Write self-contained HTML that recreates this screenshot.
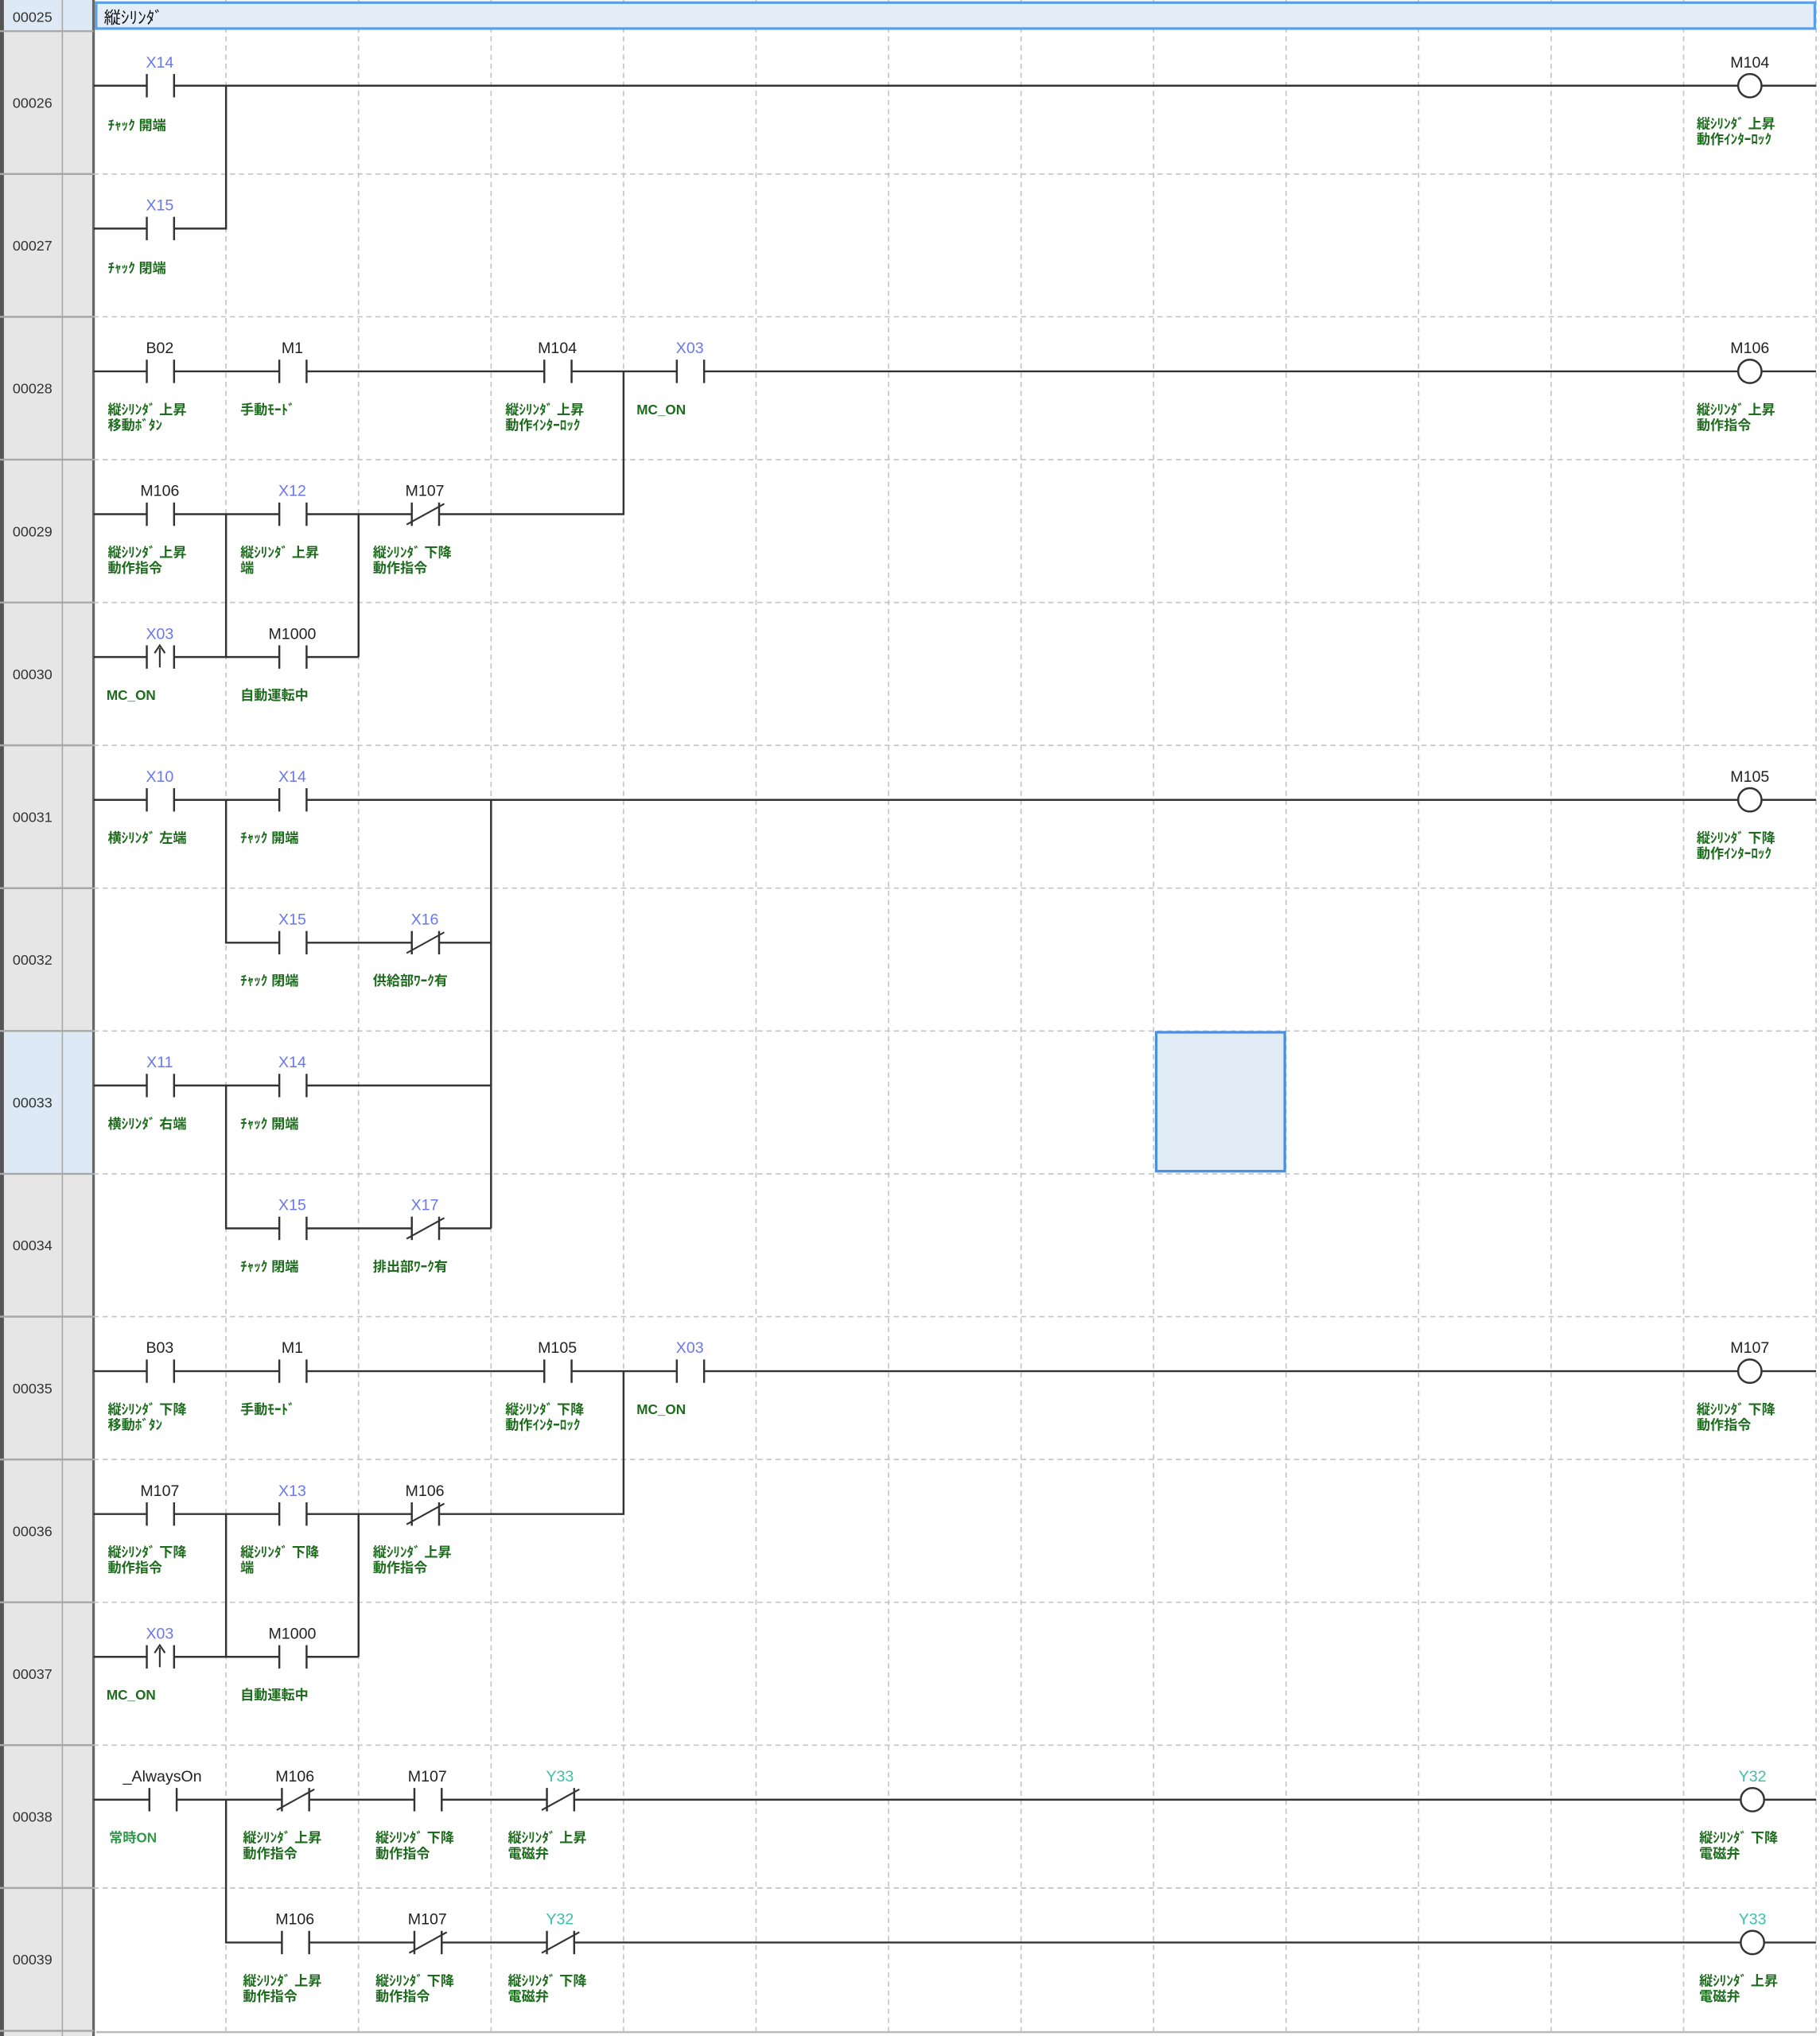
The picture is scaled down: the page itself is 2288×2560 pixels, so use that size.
<!DOCTYPE html>
<html><head><meta charset="utf-8">
<style>
html,body{margin:0;padding:0;background:#fff;}
svg{display:block;}
text{font-family:"Liberation Sans","Noto Sans CJK JP",sans-serif;}
.d{font-size:12px;fill:#222;text-anchor:middle;}
.b{font-size:12px;fill:#6a78f0;text-anchor:middle;}
.y{font-size:12px;fill:#3cc0a8;text-anchor:middle;}
.c{font-size:10.5px;fill:#1d6b1d;font-weight:bold;}
.n{font-size:11px;fill:#333;text-anchor:middle;}
.w{stroke:#333;stroke-width:1.5;fill:none;}
.g{stroke:#c4c4c4;stroke-width:1;stroke-dasharray:4,3;fill:none;}
</style></head><body>
<svg width="2288" height="2560" viewBox="0 0 1401 1568" preserveAspectRatio="none" xmlns="http://www.w3.org/2000/svg">
<defs>
<g id="no"><rect x="-10" y="-10" width="21" height="20" fill="#fff"/><line x1="-10" y1="-9" x2="-10" y2="9" stroke="#333" stroke-width="1.5"/><line x1="11" y1="-9" x2="11" y2="9" stroke="#333" stroke-width="1.5"/></g>
<g id="nc"><use href="#no"/><line x1="-14" y1="8" x2="15" y2="-8" stroke="#333" stroke-width="1.3"/></g>
<g id="re"><use href="#no"/><line x1="0" y1="8" x2="0" y2="-7" stroke="#333" stroke-width="1.3"/><path d="M-4,-3 L0,-9 L4,-3" stroke="#333" stroke-width="1.3" fill="none"/></g>
<g id="coil"><circle r="9" fill="#fff" stroke="#333" stroke-width="1.5"/></g>
</defs>
<!-- left columns -->
<rect x="0" y="0" width="72" height="1568" fill="#e6e6e6"/>
<rect x="0" y="0" width="72" height="24" fill="#dde9f5"/>
<rect x="0" y="794" width="72" height="110" fill="#dde9f5"/>
<line x1="1.5" y1="0" x2="1.5" y2="1568" stroke="#555" stroke-width="3"/>
<line x1="48" y1="0" x2="48" y2="1568" stroke="#a8a8a8" stroke-width="1"/>
<line x1="72" y1="0" x2="72" y2="1568" stroke="#666" stroke-width="2"/>
<g stroke="#a8a8a8" stroke-width="1.5">
<line x1="0" y1="24" x2="72" y2="24"/><line x1="0" y1="134" x2="72" y2="134"/><line x1="0" y1="244" x2="72" y2="244"/><line x1="0" y1="354" x2="72" y2="354"/><line x1="0" y1="464" x2="72" y2="464"/><line x1="0" y1="574" x2="72" y2="574"/><line x1="0" y1="684" x2="72" y2="684"/><line x1="0" y1="794" x2="72" y2="794"/><line x1="0" y1="904" x2="72" y2="904"/><line x1="0" y1="1014" x2="72" y2="1014"/><line x1="0" y1="1124" x2="72" y2="1124"/><line x1="0" y1="1234" x2="72" y2="1234"/><line x1="0" y1="1344" x2="72" y2="1344"/><line x1="0" y1="1454" x2="72" y2="1454"/><line x1="0" y1="1564" x2="72" y2="1564"/>
</g>
<text class="n" x="25" y="17">00025</text>
<text class="n" x="25" y="83">00026</text><text class="n" x="25" y="193">00027</text><text class="n" x="25" y="303">00028</text><text class="n" x="25" y="413">00029</text><text class="n" x="25" y="523">00030</text><text class="n" x="25" y="633">00031</text><text class="n" x="25" y="743">00032</text><text class="n" x="25" y="853">00033</text><text class="n" x="25" y="963">00034</text><text class="n" x="25" y="1073">00035</text><text class="n" x="25" y="1183">00036</text><text class="n" x="25" y="1293">00037</text><text class="n" x="25" y="1403">00038</text><text class="n" x="25" y="1513">00039</text>
<!-- grid -->
<g class="g">
<line x1="174" y1="0" x2="174" y2="1568"/><line x1="276" y1="0" x2="276" y2="1568"/><line x1="378" y1="0" x2="378" y2="1568"/><line x1="480" y1="0" x2="480" y2="1568"/><line x1="582" y1="0" x2="582" y2="1568"/><line x1="684" y1="0" x2="684" y2="1568"/><line x1="786" y1="0" x2="786" y2="1568"/><line x1="888" y1="0" x2="888" y2="1568"/><line x1="990" y1="0" x2="990" y2="1568"/><line x1="1092" y1="0" x2="1092" y2="1568"/><line x1="1194" y1="0" x2="1194" y2="1568"/><line x1="1296" y1="0" x2="1296" y2="1568"/><line x1="1398" y1="0" x2="1398" y2="1568"/>
<line x1="72" y1="134" x2="1398" y2="134"/><line x1="72" y1="244" x2="1398" y2="244"/><line x1="72" y1="354" x2="1398" y2="354"/><line x1="72" y1="464" x2="1398" y2="464"/><line x1="72" y1="574" x2="1398" y2="574"/><line x1="72" y1="684" x2="1398" y2="684"/><line x1="72" y1="794" x2="1398" y2="794"/><line x1="72" y1="904" x2="1398" y2="904"/><line x1="72" y1="1014" x2="1398" y2="1014"/><line x1="72" y1="1124" x2="1398" y2="1124"/><line x1="72" y1="1234" x2="1398" y2="1234"/><line x1="72" y1="1344" x2="1398" y2="1344"/><line x1="72" y1="1454" x2="1398" y2="1454"/>
</g>
<line x1="74" y1="1565" x2="1398" y2="1565" stroke="#bbb" stroke-width="1.5"/>
<!-- header -->
<rect x="74" y="2" width="1323" height="20" fill="#e3eef8" stroke="#5aa0e6" stroke-width="2"/>
<text x="80" y="18" style="font-size:13px;fill:#111">縦ｼﾘﾝﾀﾞ</text>
<!-- selection -->
<rect x="890" y="795" width="99" height="107" fill="#e0ebf6" stroke="#4a90e2" stroke-width="2"/>
<!-- wires -->
<g class="w">
<path d="M72,66 H1398"/>
<path d="M72,176 H174 V66"/>
<path d="M72,286 H1398"/>
<path d="M72,396 H480 V286"/><path d="M174,396 V506"/><path d="M276,396 V506"/>
<path d="M72,506 H276"/>
<path d="M72,616 H1398"/><path d="M378,616 V946"/><path d="M174,616 V726 H378"/>
<path d="M72,836 H378"/><path d="M174,836 V946 H378"/>
<path d="M72,1056 H1398"/>
<path d="M72,1166 H480 V1056"/><path d="M174,1166 V1276"/><path d="M276,1166 V1276"/>
<path d="M72,1276 H276"/>
<path d="M72,1386 H1398"/><path d="M174,1386 V1496 H1398"/>
</g>
<!-- row 26 -->
<use href="#no" x="123" y="66"/><text class="b" x="123" y="52">X14</text><text class="c" x="83" y="100">ﾁｬｯｸ 開端</text>
<use href="#coil" x="1347" y="66"/><text class="d" x="1347" y="52">M104</text><text class="c" x="1306" y="99">縦ｼﾘﾝﾀﾞ 上昇</text><text class="c" x="1306" y="111">動作ｲﾝﾀｰﾛｯｸ</text>
<!-- row 27 -->
<use href="#no" x="123" y="176"/><text class="b" x="123" y="162">X15</text><text class="c" x="83" y="210">ﾁｬｯｸ 閉端</text>
<!-- row 28 -->
<use href="#no" x="123" y="286"/><text class="d" x="123" y="272">B02</text><text class="c" x="83" y="319">縦ｼﾘﾝﾀﾞ 上昇</text><text class="c" x="83" y="331">移動ﾎﾞﾀﾝ</text>
<use href="#no" x="225" y="286"/><text class="d" x="225" y="272">M1</text><text class="c" x="185" y="319">手動ﾓｰﾄﾞ</text>
<use href="#no" x="429" y="286"/><text class="d" x="429" y="272">M104</text><text class="c" x="389" y="319">縦ｼﾘﾝﾀﾞ 上昇</text><text class="c" x="389" y="331">動作ｲﾝﾀｰﾛｯｸ</text>
<use href="#no" x="531" y="286"/><text class="b" x="531" y="272">X03</text><text class="c" x="490" y="319">MC_ON</text>
<use href="#coil" x="1347" y="286"/><text class="d" x="1347" y="272">M106</text><text class="c" x="1306" y="319">縦ｼﾘﾝﾀﾞ 上昇</text><text class="c" x="1306" y="331">動作指令</text>
<!-- row 29 -->
<use href="#no" x="123" y="396"/><text class="d" x="123" y="382">M106</text><text class="c" x="83" y="429">縦ｼﾘﾝﾀﾞ 上昇</text><text class="c" x="83" y="441">動作指令</text>
<use href="#no" x="225" y="396"/><text class="b" x="225" y="382">X12</text><text class="c" x="185" y="429">縦ｼﾘﾝﾀﾞ 上昇</text><text class="c" x="185" y="441">端</text>
<use href="#nc" x="327" y="396"/><text class="d" x="327" y="382">M107</text><text class="c" x="287" y="429">縦ｼﾘﾝﾀﾞ 下降</text><text class="c" x="287" y="441">動作指令</text>
<!-- row 30 -->
<use href="#re" x="123" y="506"/><text class="b" x="123" y="492">X03</text><text class="c" x="82" y="539">MC_ON</text>
<use href="#no" x="225" y="506"/><text class="d" x="225" y="492">M1000</text><text class="c" x="185" y="539">自動運転中</text>
<!-- row 31 -->
<use href="#no" x="123" y="616"/><text class="b" x="123" y="602">X10</text><text class="c" x="83" y="649">横ｼﾘﾝﾀﾞ 左端</text>
<use href="#no" x="225" y="616"/><text class="b" x="225" y="602">X14</text><text class="c" x="185" y="649">ﾁｬｯｸ 開端</text>
<use href="#coil" x="1347" y="616"/><text class="d" x="1347" y="602">M105</text><text class="c" x="1306" y="649">縦ｼﾘﾝﾀﾞ 下降</text><text class="c" x="1306" y="661">動作ｲﾝﾀｰﾛｯｸ</text>
<!-- row 32 -->
<use href="#no" x="225" y="726"/><text class="b" x="225" y="712">X15</text><text class="c" x="185" y="759">ﾁｬｯｸ 閉端</text>
<use href="#nc" x="327" y="726"/><text class="b" x="327" y="712">X16</text><text class="c" x="287" y="759">供給部ﾜｰｸ有</text>
<!-- row 33 -->
<use href="#no" x="123" y="836"/><text class="b" x="123" y="822">X11</text><text class="c" x="83" y="869">横ｼﾘﾝﾀﾞ 右端</text>
<use href="#no" x="225" y="836"/><text class="b" x="225" y="822">X14</text><text class="c" x="185" y="869">ﾁｬｯｸ 開端</text>
<!-- row 34 -->
<use href="#no" x="225" y="946"/><text class="b" x="225" y="932">X15</text><text class="c" x="185" y="979">ﾁｬｯｸ 閉端</text>
<use href="#nc" x="327" y="946"/><text class="b" x="327" y="932">X17</text><text class="c" x="287" y="979">排出部ﾜｰｸ有</text>
<!-- row 35 -->
<use href="#no" x="123" y="1056"/><text class="d" x="123" y="1042">B03</text><text class="c" x="83" y="1089">縦ｼﾘﾝﾀﾞ 下降</text><text class="c" x="83" y="1101">移動ﾎﾞﾀﾝ</text>
<use href="#no" x="225" y="1056"/><text class="d" x="225" y="1042">M1</text><text class="c" x="185" y="1089">手動ﾓｰﾄﾞ</text>
<use href="#no" x="429" y="1056"/><text class="d" x="429" y="1042">M105</text><text class="c" x="389" y="1089">縦ｼﾘﾝﾀﾞ 下降</text><text class="c" x="389" y="1101">動作ｲﾝﾀｰﾛｯｸ</text>
<use href="#no" x="531" y="1056"/><text class="b" x="531" y="1042">X03</text><text class="c" x="490" y="1089">MC_ON</text>
<use href="#coil" x="1347" y="1056"/><text class="d" x="1347" y="1042">M107</text><text class="c" x="1306" y="1089">縦ｼﾘﾝﾀﾞ 下降</text><text class="c" x="1306" y="1101">動作指令</text>
<!-- row 36 -->
<use href="#no" x="123" y="1166"/><text class="d" x="123" y="1152">M107</text><text class="c" x="83" y="1199">縦ｼﾘﾝﾀﾞ 下降</text><text class="c" x="83" y="1211">動作指令</text>
<use href="#no" x="225" y="1166"/><text class="b" x="225" y="1152">X13</text><text class="c" x="185" y="1199">縦ｼﾘﾝﾀﾞ 下降</text><text class="c" x="185" y="1211">端</text>
<use href="#nc" x="327" y="1166"/><text class="d" x="327" y="1152">M106</text><text class="c" x="287" y="1199">縦ｼﾘﾝﾀﾞ 上昇</text><text class="c" x="287" y="1211">動作指令</text>
<!-- row 37 -->
<use href="#re" x="123" y="1276"/><text class="b" x="123" y="1262">X03</text><text class="c" x="82" y="1309">MC_ON</text>
<use href="#no" x="225" y="1276"/><text class="d" x="225" y="1262">M1000</text><text class="c" x="185" y="1309">自動運転中</text>
<!-- row 38 -->
<use href="#no" x="125" y="1386"/><text class="d" x="125" y="1372">_AlwaysOn</text><text class="c" x="84" y="1419" style="fill:#2e9a4a">常時ON</text>
<use href="#nc" x="227" y="1386"/><text class="d" x="227" y="1372">M106</text><text class="c" x="187" y="1419">縦ｼﾘﾝﾀﾞ 上昇</text><text class="c" x="187" y="1431">動作指令</text>
<use href="#no" x="329" y="1386"/><text class="d" x="329" y="1372">M107</text><text class="c" x="289" y="1419">縦ｼﾘﾝﾀﾞ 下降</text><text class="c" x="289" y="1431">動作指令</text>
<use href="#nc" x="431" y="1386"/><text class="y" x="431" y="1372">Y33</text><text class="c" x="391" y="1419">縦ｼﾘﾝﾀﾞ 上昇</text><text class="c" x="391" y="1431">電磁弁</text>
<use href="#coil" x="1349" y="1386"/><text class="y" x="1349" y="1372">Y32</text><text class="c" x="1308" y="1419">縦ｼﾘﾝﾀﾞ 下降</text><text class="c" x="1308" y="1431">電磁弁</text>
<!-- row 39 -->
<use href="#no" x="227" y="1496"/><text class="d" x="227" y="1482">M106</text><text class="c" x="187" y="1529">縦ｼﾘﾝﾀﾞ 上昇</text><text class="c" x="187" y="1541">動作指令</text>
<use href="#nc" x="329" y="1496"/><text class="d" x="329" y="1482">M107</text><text class="c" x="289" y="1529">縦ｼﾘﾝﾀﾞ 下降</text><text class="c" x="289" y="1541">動作指令</text>
<use href="#nc" x="431" y="1496"/><text class="y" x="431" y="1482">Y32</text><text class="c" x="391" y="1529">縦ｼﾘﾝﾀﾞ 下降</text><text class="c" x="391" y="1541">電磁弁</text>
<use href="#coil" x="1349" y="1496"/><text class="y" x="1349" y="1482">Y33</text><text class="c" x="1308" y="1529">縦ｼﾘﾝﾀﾞ 上昇</text><text class="c" x="1308" y="1541">電磁弁</text>
</svg>
</body></html>
